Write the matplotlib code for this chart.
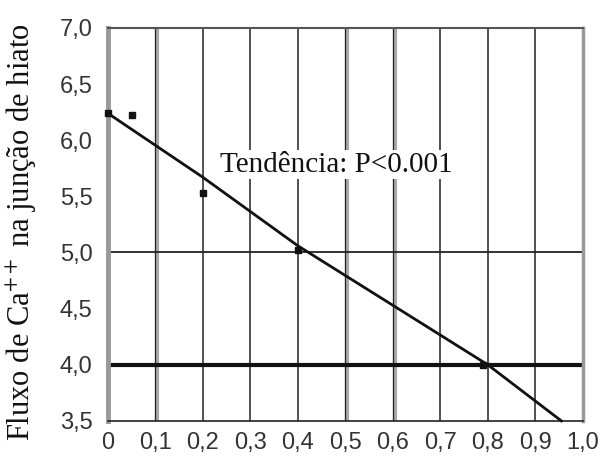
import matplotlib.pyplot as plt
from matplotlib.ticker import FixedLocator

# dados
conc = [0.0, 0.05, 0.2, 0.4, 0.79]
fluxo = [6.24, 6.22, 5.53, 5.02, 4.0]

# linha de tendência
tend_x = [0.0, 0.2, 0.4, 0.8, 0.955]
tend_y = [6.24, 5.67, 5.06, 4.0, 3.5]

xticks = [0, 0.1, 0.2, 0.3, 0.4, 0.5, 0.6, 0.7, 0.8, 0.9, 1.0]
xlabels = ['0', '0,1', '0,2', '0,3', '0,4', '0,5', '0,6', '0,7', '0,8', '0,9', '1,0']
yticks = [3.5, 4.0, 4.5, 5.0, 5.5, 6.0, 6.5, 7.0]
ylabels = ['3,5', '4,0', '4,5', '5,0', '5,5', '6,0', '6,5', '7,0']

gray_lines = [0.1, 0.5, 0.6]
black_lines = [0.2, 0.3, 0.4, 0.7, 0.8, 0.9]

plt.rcParams['mathtext.fontset'] = 'stix'

fig = plt.figure(figsize=(6.02, 4.57), dpi=100)
ax = fig.add_axes([0.179, 0.079, 0.789, 0.860])
ax.set_xlim(0, 1.0)
ax.set_ylim(3.5, 7.0)

# grade
for xv in gray_lines:
    ax.axvline(xv + 0.004, color='#a8a8a8', lw=3, zorder=1)
    ax.axvline(xv, color='#222222', lw=0.9, zorder=1)
for xv in black_lines:
    ax.axvline(xv, color='#222222', lw=1.1, zorder=1)
ax.axhline(5.0, color='#222222', lw=1.3, zorder=1)
ax.axhline(4.0, color='#111111', lw=3, zorder=1)

ax.plot(tend_x, tend_y, color='#111111', lw=2, zorder=3, clip_on=False)
ax.plot(conc, fluxo, 's', color='#111111', ms=5, zorder=4, clip_on=False)

ax.text(0.236, 5.78, 'Tendência: P<0.001', fontsize=21, family='Liberation Serif',
        va='center', ha='left', zorder=5, color='#111111',
        bbox=dict(facecolor='white', edgecolor='none', pad=1))

ax.xaxis.set_major_locator(FixedLocator(xticks))
ax.set_xticklabels(xlabels, fontsize=17, family='Liberation Sans', color='#333333')
ax.yaxis.set_major_locator(FixedLocator(yticks))
ax.set_yticklabels(ylabels, fontsize=17, family='Liberation Sans', color='#333333')
ax.tick_params(length=0)
ax.tick_params(axis='y', pad=11)
ax.tick_params(axis='x', pad=8)

ax.set_ylabel('Fluxo de Ca$^{++}$ na junção de hiato', fontsize=22,
              family='Liberation Serif', color='#111111')
ax.yaxis.set_label_coords(-0.145, 0.48)

ax.spines['left'].set_color('#999999')
ax.spines['left'].set_linewidth(3.5)
ax.spines['right'].set_color('#999999')
ax.spines['right'].set_linewidth(2.5)
ax.spines['top'].set_color('#555555')
ax.spines['top'].set_linewidth(1.5)
ax.spines['bottom'].set_color('#222222')
ax.spines['bottom'].set_linewidth(1.2)

fig.savefig('out.png', dpi=100)
